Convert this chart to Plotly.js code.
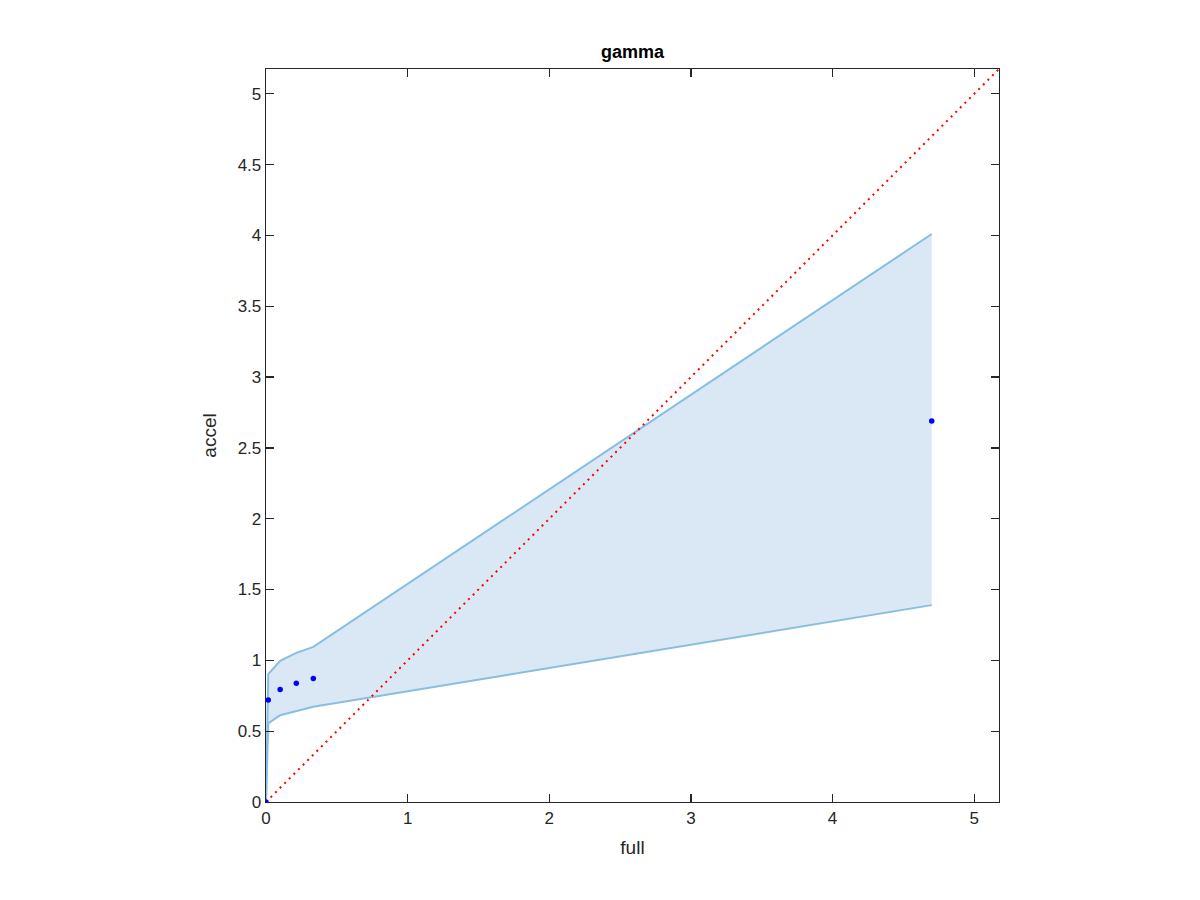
<!DOCTYPE html>
<html>
<head>
<meta charset="utf-8">
<script src="https://cdn.plot.ly/plotly-3.0.1.min.js"></script>
<style>html,body{margin:0;padding:0;background:#fff;}#chart{width:1200px;height:900px;}</style>
</head>
<body>
<div id="chart"></div>
<script>
const fullVals = [0, 0.016, 0.10, 0.214, 0.334, 4.70];
const accelVals = [0, 0.72, 0.795, 0.839, 0.872, 2.69];
const upperBand = [0, 0.903, 0.997, 1.053, 1.095, 4.01];
const lowerBand = [0, 0.555, 0.613, 0.644, 0.672, 1.39];
const axisMax = 5.175;
const diagX = [0, axisMax];
const diagY = [0, axisMax];

const fillColor = 'rgb(217,232,244)';
const edgeColor = 'rgb(137,190,225)';

const traces = [
  {
    x: fullVals.concat(fullVals.slice().reverse()),
    y: upperBand.concat(lowerBand.slice().reverse()),
    mode: 'lines', fill: 'toself', fillcolor: fillColor,
    line: {width: 0, color: fillColor}, hoverinfo: 'skip', showlegend: false
  },
  {x: fullVals, y: upperBand, mode: 'lines', line: {color: edgeColor, width: 2}, showlegend: false},
  {x: fullVals, y: lowerBand, mode: 'lines', line: {color: edgeColor, width: 2}, showlegend: false},
  {x: diagX, y: diagY, mode: 'lines', line: {color: 'red', width: 2, dash: '2px,4.5px'}, showlegend: false},
  {x: fullVals, y: accelVals, mode: 'markers', marker: {color: 'blue', size: 5.5}, showlegend: false}
];

const axisCommon = {
  range: [0, axisMax], showgrid: false, zeroline: false,
  showline: true, linecolor: '#262626', linewidth: 1.3, mirror: 'ticks',
  ticks: 'inside', ticklen: 8, tickcolor: '#262626', tickwidth: 1.3,
  tickfont: {family: 'Liberation Sans, Arial, sans-serif', size: 17, color: '#262626'}
};

const layout = {
  width: 1200, height: 900,
  paper_bgcolor: '#fff', plot_bgcolor: '#fff',
  margin: {l: 266, r: 201, t: 69, b: 98},
  title: {text: '<b>gamma</b>', x: 0.5 * (266 + 999) / 1200, xanchor: 'center', y: 1 - 52 / 900, yanchor: 'middle',
          font: {family: 'Liberation Sans, Arial, sans-serif', size: 18, color: '#000'}},
  xaxis: Object.assign({}, axisCommon, {
    tickvals: [0, 1, 2, 3, 4, 5],
    title: {text: 'full', standoff: 14, font: {family: 'Liberation Sans, Arial, sans-serif', size: 19, color: '#262626'}}
  }),
  yaxis: Object.assign({}, axisCommon, {
    tickvals: [0, 0.5, 1, 1.5, 2, 2.5, 3, 3.5, 4, 4.5, 5],
    ticktext: ['0', '0.5', '1', '1.5', '2', '2.5', '3', '3.5', '4', '4.5', '5'],
    title: {text: 'accel', standoff: 16, font: {family: 'Liberation Sans, Arial, sans-serif', size: 19, color: '#262626'}}
  })
};

Plotly.newPlot('chart', traces, layout, {displayModeBar: false, staticPlot: true});
</script>
</body>
</html>
